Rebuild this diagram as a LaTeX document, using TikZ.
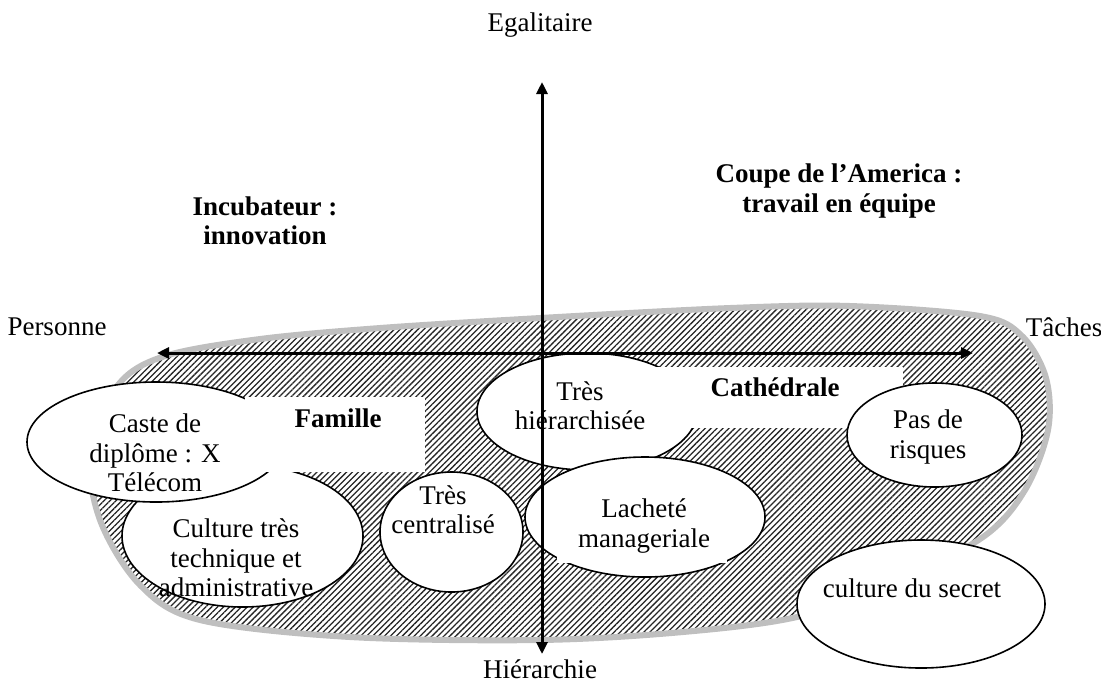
\documentclass[tikz,border=0pt]{standalone}
\usepackage{fontspec}
\setmainfont{Liberation Serif}
\usetikzlibrary{shapes.geometric,arrows.meta,patterns.meta}

\begin{document}
\begin{tikzpicture}[x=0.5pt,y=-0.5pt,
  every node/.style={font=\fontsize{13.5}{14.7}\selectfont},
  bulle/.style={draw,ellipse,fill=white,line width=0.8pt,inner sep=0pt},
  boite/.style={fill=white,inner sep=0pt},
  mot/.style={align=center,inner sep=0pt},
  titre/.style={font=\fontsize{13.5}{14.7}\selectfont\bfseries,align=center,inner sep=0pt},
  axe/.style={line width=1.5pt,{Triangle[length=6pt,width=5.5pt]}-{Triangle[length=6pt,width=5.5pt]}},
  tache/.style={draw=black!25,line width=3pt,pattern={Lines[angle=45,distance=2.1pt,line width=0.65pt]},pattern color=black!85}]
\useasboundingbox (0,0) rectangle (1101,682);

% la tache hachuree
\path[tache] plot[smooth cycle,tension=0.55] coordinates {(90,450) (118,385) (165,356) (260,339) (380,328) (540,318) (730,308) (850,306) (980,316) (1022,336) (1046,378) (1048,430) (1025,490) (983,537) (890,585) (797,617) (683,632) (540,640) (350,637) (200,620) (140,585) (100,520)};

% bulles
\node[bulle,minimum width=120.5pt,minimum height=71pt] (technique) at (242.5,536) {};
\node[bulle,minimum width=71.5pt,minimum height=60pt] (centralise) at (451.5,532) {};
\node[bulle,minimum width=129pt,minimum height=60pt] (caste) at (156,442) {};
\node[boite,minimum width=90pt,minimum height=37.5pt] (famillebox) at (335,434.5) {};
\node[bulle,minimum width=110pt,minimum height=58.5pt] (hierarchisee) at (587,411.5) {};
\node[boite,minimum width=131.5pt,minimum height=30.5pt] (cathedralebox) at (771.5,397.5) {};
\node[bulle,minimum width=120pt,minimum height=60pt] (lachete) at (645,517) {};
\fill[white] (557,530) rectangle (727,563);
\node[bulle,minimum width=87.5pt,minimum height=52pt] (risques) at (934.5,435) {};
\node[bulle,minimum width=124pt,minimum height=64pt] (secret) at (921,604) {};

% textes
\node[mot] (castetxt) at (155,453) {Caste de\\diplôme : X\\Télécom};
\node[mot] (techniquetxt) at (236,558) {Culture très\\technique et\\administrative};
\node[mot] (centralisetxt) at (443,510) {Très\\centralisé};
\node[mot] (hierarchiseetxt) at (580,406) {Très\\hiérarchisée};
\node[mot] (lachetetxt) at (644,526) {Lacheté\\manageriale};
\node[mot] (risquestxt) at (928,437) {Pas de\\risques};
\node[mot] (secrettxt) at (912,588) {culture du secret};
\node[titre] (famille) at (338,418) {Famille};
\node[titre] (cathedrale) at (775,387) {Cathédrale};
\node[titre] (incubateur) at (265,221) {Incubateur :\\innovation};
\node[titre] (coupe) at (839,191) {Coupe de l’America :\\travail en équipe};

% axes
\coordinate (haut) at (542,82);
\coordinate (bas) at (542,654);
\coordinate (gauche) at (157,353);
\coordinate (droite) at (973,353);
\draw[axe] (bas) -- (haut);
\draw[axe] (gauche) -- (droite);

\node[mot] (egalitaire) at (540,25) {Egalitaire};
\node[mot] (hierarchie) at (540,669) {Hiérarchie};
\node[mot] (personne) at (57,327) {Personne};
\node[mot] (taches) at (1064,327) {Tâches};
\end{tikzpicture}
\end{document}
